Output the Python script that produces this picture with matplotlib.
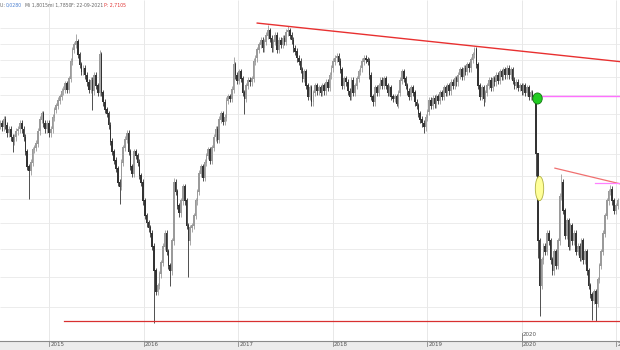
import numpy as np
import matplotlib
matplotlib.use("Agg")
import matplotlib.pyplot as plt
from matplotlib.path import Path
from matplotlib.transforms import Affine2D, blended_transform_factory
from matplotlib.patches import Rectangle
from matplotlib.ticker import NullLocator

# ---------------- data ----------------
start_year = 2014.478          # date of first weekly bar (decimal year)
first_open = 2.04
closes = [
    2.05, 2.03, 2.07, 2.04, 2.00, 2.02, 1.98, 1.96,
    1.98, 2.01, 2.02, 2.05, 2.02, 1.98, 1.91, 1.84,
    1.82, 1.86, 1.92, 1.93, 1.95, 2.01, 2.07, 2.10,
    2.05, 2.02, 2.05, 2.00, 2.02, 2.08, 2.12, 2.14,
    2.17, 2.19, 2.22, 2.23, 2.26, 2.23, 2.29, 2.39,
    2.46, 2.49, 2.51, 2.43, 2.37, 2.33, 2.35, 2.31,
    2.27, 2.23, 2.28, 2.22, 2.31, 2.25, 2.21, 2.43,
    2.21, 2.16, 2.12, 2.10, 2.04, 1.96, 1.91, 1.87,
    1.83, 1.77, 1.75, 1.86, 1.93, 1.97, 2.00, 1.91,
    1.84, 1.81, 1.91, 1.89, 1.86, 1.80, 1.77, 1.69,
    1.63, 1.60, 1.58, 1.56, 1.51, 1.42, 1.35, 1.37,
    1.41, 1.45, 1.51, 1.56, 1.49, 1.44, 1.42, 1.53,
    1.77, 1.73, 1.67, 1.64, 1.69, 1.75, 1.69, 1.59,
    1.53, 1.58, 1.59, 1.63, 1.69, 1.73, 1.81, 1.84,
    1.79, 1.86, 1.89, 1.92, 1.87, 1.93, 1.98, 2.02,
    1.97, 2.07, 2.10, 2.06, 2.08, 2.17, 2.19, 2.18,
    2.23, 2.37, 2.31, 2.28, 2.33, 2.29, 2.21, 2.18,
    2.25, 2.28, 2.27, 2.29, 2.39, 2.41, 2.46, 2.49,
    2.52, 2.47, 2.51, 2.55, 2.58, 2.53, 2.47, 2.51,
    2.55, 2.46, 2.52, 2.49, 2.53, 2.51, 2.57, 2.58,
    2.55, 2.52, 2.47, 2.45, 2.41, 2.39, 2.34, 2.29,
    2.33, 2.25, 2.19, 2.24, 2.16, 2.21, 2.25, 2.22,
    2.24, 2.21, 2.25, 2.22, 2.27, 2.24, 2.31, 2.35,
    2.39, 2.41, 2.42, 2.39, 2.34, 2.25, 2.29, 2.27,
    2.22, 2.19, 2.28, 2.21, 2.25, 2.29, 2.33, 2.35,
    2.39, 2.41, 2.40, 2.39, 2.31, 2.19, 2.16, 2.24,
    2.21, 2.25, 2.28, 2.25, 2.29, 2.25, 2.21, 2.24,
    2.19, 2.18, 2.19, 2.15, 2.21, 2.28, 2.33, 2.29,
    2.25, 2.22, 2.19, 2.24, 2.21, 2.16, 2.14, 2.10,
    2.07, 2.05, 2.03, 2.08, 2.11, 2.17, 2.14, 2.18,
    2.15, 2.19, 2.17, 2.21, 2.19, 2.24, 2.21, 2.25,
    2.22, 2.27, 2.25, 2.29, 2.27, 2.31, 2.34, 2.30,
    2.35, 2.33, 2.37, 2.35, 2.40, 2.43, 2.46, 2.37,
    2.25, 2.19, 2.24, 2.18, 2.21, 2.25, 2.28, 2.24,
    2.29, 2.27, 2.31, 2.28, 2.33, 2.30, 2.34, 2.31,
    2.35, 2.31, 2.34, 2.28, 2.25, 2.27, 2.24, 2.25,
    2.22, 2.25, 2.21, 2.24, 2.19, 2.21, 2.19, 2.18,
    1.90, 1.53, 1.37, 1.46, 1.51, 1.49, 1.56, 1.53,
    1.46, 1.42, 1.49, 1.44, 1.53, 1.71, 1.77, 1.65,
    1.55, 1.61, 1.51, 1.59, 1.53, 1.56, 1.49, 1.51,
    1.47, 1.53, 1.46, 1.49, 1.42, 1.37, 1.34, 1.32,
    1.35, 1.31, 1.39, 1.44, 1.49, 1.56, 1.63, 1.69,
    1.73, 1.74, 1.69, 1.65, 1.67, 1.69,
]
high_marks = {42: 2.56, 55: 2.46, 96: 1.79, 129: 2.42, 148: 2.62, 159: 2.61,
              186: 2.44, 262: 2.48, 297: 1.86, 310: 1.81, 337: 1.76}
low_marks = {7: 1.91, 16: 1.70, 51: 2.12, 66: 1.68, 85: 1.25, 94: 1.37,
             104: 1.40, 135: 2.10, 206: 2.14, 219: 2.14, 234: 2.00, 267: 2.14,
             296: 1.80, 297: 1.47, 298: 1.27, 327: 1.26, 329: 1.255}

years = [2015, 2016, 2017, 2018, 2019, 2020, 2021]
year_labels = ["2015", "2016", "2017", "2018", "2019", "2020", "2021"]
grid_prices = [1.3, 1.4, 1.5, 1.6, 1.7, 1.8, 1.9, 2.0, 2.1, 2.2, 2.3, 2.4, 2.5, 2.6]

resist_x, resist_y = [2017.20, 2021.04], [2.63, 2.39]
support_x, support_y = [2015.16, 2021.04], [1.256, 1.256]
magenta_x, magenta_y = [2020.19, 2021.04], [2.195, 2.195]
red2_x, red2_y = [2020.35, 2021.04], [1.835, 1.765]
magenta2_x, magenta2_y = [2020.77, 2021.04], [1.768, 1.768]
green_x, green_y = 2020.16, 2.185
yellow_x, yellow_y = 2020.182, 1.747

header = [("U: ", "#666666"), ("0,0280", "#4a7fd0"), ("Mi 1,8015", "#666666"),
          ("mi 1,7850", "#666666"), ("F: 22-09-2021", "#666666"),
          ("P: 2,7105", "#e03030")]
header_px = [0, 6, 25, 48, 71, 104]

# ---------------- build OHLC ----------------
n = len(closes)
c = np.array(closes)
o = np.array([first_open] + closes[:-1])
xs = start_year + np.arange(n) * 7 / 365.25
hi = np.maximum(o, c) * 1.008
lo = np.minimum(o, c) * 0.992
for k, v in high_marks.items():
    hi[k] = v
for k, v in low_marks.items():
    lo[k] = v

# ---------------- figure ----------------
fig = plt.figure(figsize=(6.2, 3.5), dpi=100)
fig.patches.append(Rectangle((0, 0), 1, 9 / 350, transform=fig.transFigure,
                             facecolor="#ececec", edgecolor="none", zorder=-5))
fig.patches.append(Rectangle((0, 348 / 350), 1, 2 / 350, transform=fig.transFigure,
                             facecolor="#c8c8c8", edgecolor="none", zorder=-5))
ax = fig.add_axes([0, 9 / 350, 1, 341 / 350])
ax.set_facecolor("white")
ax.set_yscale("log")
ax.set_ylim(1.195, 2.785)
ax.set_xlim(2014.478, 2021.039)
ax.yaxis.set_major_locator(NullLocator())
ax.yaxis.set_minor_locator(NullLocator())
ax.xaxis.set_major_locator(NullLocator())
ax.xaxis.set_minor_locator(NullLocator())
for s in ["top", "left", "right"]:
    ax.spines[s].set_visible(False)
ax.spines["bottom"].set_color("#8a8a8a")
ax.spines["bottom"].set_linewidth(0.8)

# grid
ax.hlines(grid_prices, 2014.478, 2021.039, color="#ececec", lw=0.7, zorder=0)
ax.vlines(years, 1.195, 2.785, color="#e8e8e8", lw=0.7, zorder=0)

# candles
up = c >= o
colors = np.where(up, "#9a9a9a", "#333333")
ax.vlines(xs, lo, hi, colors=colors, lw=0.6, zorder=2)
ax.bar(xs, np.abs(c - o) + 0.004, bottom=np.minimum(o, c), width=0.017,
       color=colors, linewidth=0, zorder=3)

# drawn lines
ax.plot(resist_x, resist_y, color="#e83030", lw=1.0, zorder=4)
ax.plot(support_x, support_y, color="#d83030", lw=0.9, zorder=4)
ax.plot(magenta_x, magenta_y, color="#ff70ff", lw=1.0, zorder=4)
ax.plot(red2_x, red2_y, color="#f07070", lw=0.9, zorder=4)
ax.plot(magenta2_x, magenta2_y, color="#ff80ff", lw=0.9, zorder=4)

circ = Path.unit_circle()
ell_green = circ.transformed(Affine2D().scale(0.85, 1.0))
ell_yellow = circ.transformed(Affine2D().scale(1.0, 2.9))
ax.plot([green_x], [green_y], marker=ell_green, markersize=8.0, color="#22cc22",
        markeredgecolor="#117711", markeredgewidth=0.6, zorder=6)
ax.plot([yellow_x], [yellow_y], marker=ell_yellow, markersize=17.5, color="#ffff99",
        markeredgecolor="#b0b040", markeredgewidth=0.6, zorder=6)

# x axis: ticks and labels drawn in the bottom band
trans = blended_transform_factory(ax.transData, ax.transAxes)
for yv, lab in zip(years, year_labels):
    ax.plot([yv, yv], [0, -5 / 341], transform=trans, color="#8a8a8a", lw=0.6,
            clip_on=False, zorder=10)
    ax.text(yv + 0.012, -1.2 / 341, lab, transform=trans, fontsize=4,
            color="#555555", ha="left", va="top", clip_on=False, zorder=10)

ax.plot([2020.0, 2020.0], [0, 8 / 341], transform=trans, color="#777777", lw=0.6,
        clip_on=False, zorder=5)
ax.text(2020.01, 4.5 / 341, "2020", transform=trans, fontsize=4, color="#555555",
        ha="left", va="bottom")

# header text
hy = 1 - 5.5 / 350
for px, (txt, col) in zip(header_px, header):
    fig.text(px / 620, hy, txt, fontsize=3.3, color=col, ha="left", va="center")

fig.savefig("out.png", dpi=100)
